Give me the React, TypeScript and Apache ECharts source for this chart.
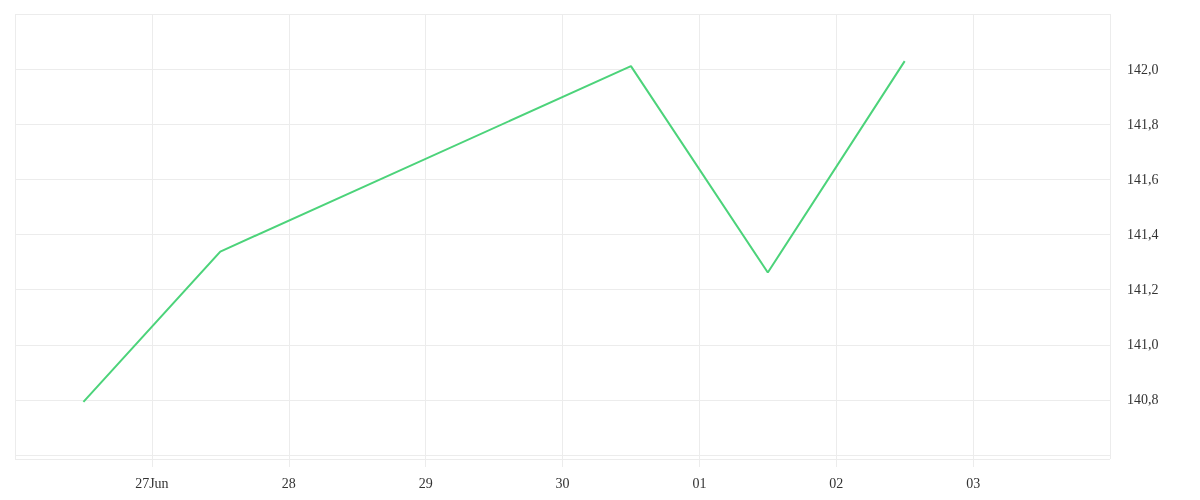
import React, { useEffect, useRef } from "react";
import * as echarts from "echarts";

const dates = ["2024-06-26T12:00:00Z", "2024-06-27T12:00:00Z", "2024-06-30T12:00:00Z", "2024-07-01T12:00:00Z", "2024-07-02T12:00:00Z"];
const values = [140.793, 141.338, 142.011, 141.262, 142.029];
const xStart = "2024-06-26T00:00:00Z";
const xEnd = "2024-07-04T00:00:00Z";
const yMin = 140.5855;
const yMax = 142.2;
const yLabelFloor = 140.7;

export default function App() {
  const ref = useRef<HTMLDivElement>(null);
  useEffect(() => {
    if (!ref.current) return;
    const chart = echarts.init(ref.current, null, { renderer: "svg" });
    const font = "serif";
    chart.setOption({
      animation: false,
      grid: { left: 15, right: 90, top: 14, bottom: 41 },
      xAxis: {
        type: "value",
        min: Date.parse(xStart),
        max: Date.parse(xEnd),
        interval: 86400000,
        axisLine: { show: false },
        axisTick: { show: true, length: 8, lineStyle: { color: "#ececec" } },
        splitLine: { show: true, lineStyle: { color: "#ececec" } },
        axisLabel: {
          showMinLabel: false,
          showMaxLabel: false,
          margin: 17,
          color: "#333",
          fontSize: 14,
          fontFamily: font,
          formatter: (v: number) => {
            const d = new Date(v);
            const day = String(d.getUTCDate()).padStart(2, "0");
            return d.getUTCDate() === 27 && d.getUTCMonth() === 5 ? day + "Jun" : day;
          },
        },
      },
      yAxis: {
        type: "value",
        position: "right",
        min: yMin,
        max: yMax,
        splitNumber: 8,
        axisLine: { show: false },
        axisTick: { show: false },
        splitLine: { show: true, lineStyle: { color: "#ececec" } },
        axisLabel: {
          showMinLabel: false,
          showMaxLabel: false,
          margin: 17,
          color: "#333",
          fontSize: 14,
          fontFamily: font,
          formatter: (v: number) => (v < yLabelFloor ? "" : v.toFixed(1).replace(".", ",")),
        },
      },
      series: [
        {
          type: "line",
          data: dates.map((d, i) => [Date.parse(d), values[i]]),
          showSymbol: false,
          lineStyle: { color: "#4cd37a", width: 2 },
          itemStyle: { color: "#4cd37a" },
        },
      ],
    });
    return () => chart.dispose();
  }, []);
  return <div ref={ref} style={{ position: "fixed", left: 0, top: 0, width: 1200, height: 500 }} />;
}
